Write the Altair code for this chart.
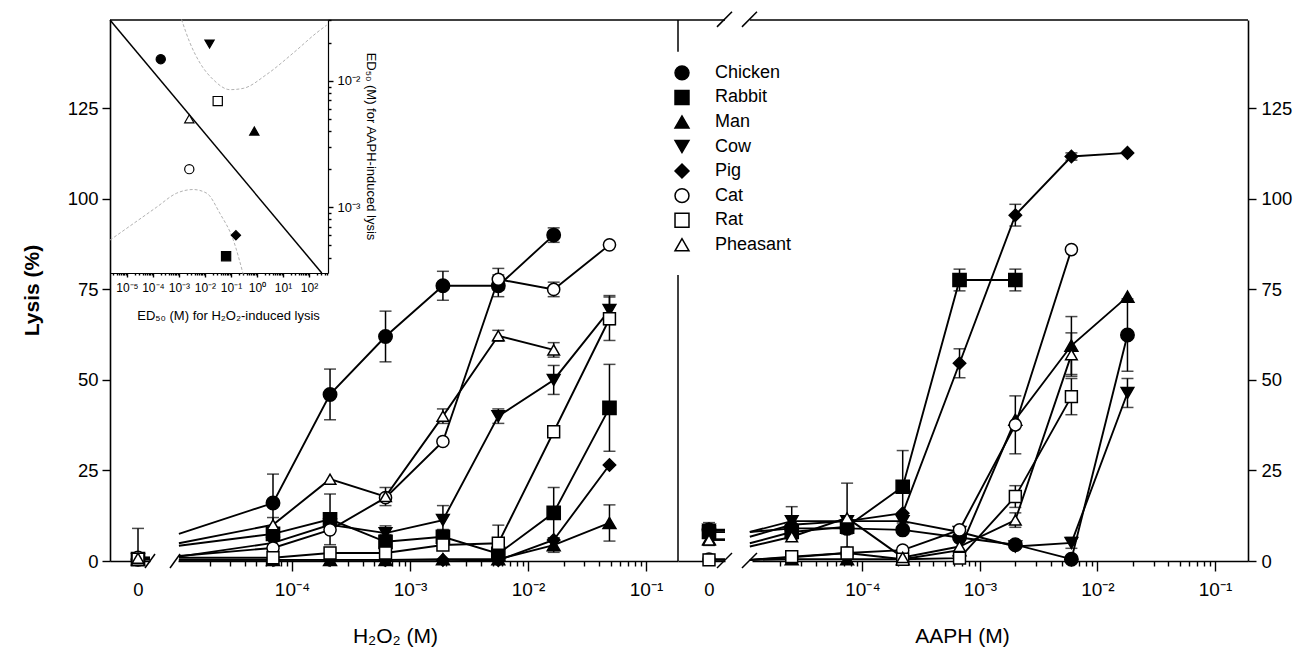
import altair as alt
import pandas as pd

FONT = "Liberation Sans"

# ---------------- data ----------------
SPECIES = ["Chicken", "Rabbit", "Man", "Cow", "Pig", "Cat", "Rat", "Pheasant"]
SHAPES = ["circle", "square", "triangle-up", "triangle-down", "diamond", "circle", "square", "triangle-up"]
FILLS = ["black", "black", "black", "black", "black", "white", "white", "white"]
SIZES = [180, 135, 170, 170, 205, 180, 135, 170]

H2O2_DOSE = [6.9e-5, 2.1e-4, 6.2e-4, 1.9e-3, 5.6e-3, 1.65e-2, 4.9e-2]
AAPH_DOSE = [2.5e-5, 7.4e-5, 2.2e-4, 6.7e-4, 2.0e-3, 6.0e-3, 1.8e-2]
STUB_DOSE = 1.1e-5

H2O2_LYSIS = {
    "Chicken": [16, 46, 62, 76, 76, 90, None],
    "Rabbit": [7.5, 11.5, 5.3, 6.7, 2, 13.3, 42.3],
    "Man": [0.3, 0.3, 0.3, 0.5, 0.5, 4.4, 10.5],
    "Cow": [5, 10, 7.7, 11.3, 40, 50, 69.3],
    "Pig": [0.3, 0.3, 0.3, 0.3, 0.2, 5.8, 26.5],
    "Cat": [3.6, 8.6, 17.5, 33, 77.8, 75, 87.3],
    "Rat": [0.9, 2.2, 2.2, 4.4, 4.9, 35.7, 66.9],
    "Pheasant": [10, 22.6, 17.8, 40, 62.2, 58.3, None],
}
H2O2_ERR = {
    "Chicken": [8, 7, 7, 4, 3, 2, None],
    "Rabbit": [1.5, 7, 2, 2, 0, 7, 12],
    "Man": [0, 0, 0, 0, 0, 2, 5],
    "Cow": [0, 0, 2, 4, 2, 4, 4],
    "Pig": [0, 0, 0, 0, 0, 0, 0],
    "Cat": [0, 0, 0, 0, 3, 2, 0],
    "Rat": [0, 0, 0, 0, 5, 0, 6],
    "Pheasant": [2, 0, 2.5, 2, 1.5, 2, None],
}
H2O2_CONTROL = {"Chicken": 0.5, "Rabbit": 0.5, "Man": 0.5, "Cow": 0.5, "Pig": 0.5,
                "Cat": 1.0, "Rat": 0.5, "Pheasant": 0.8}
H2O2_CONTROL_ERR = {"Chicken": 0, "Rabbit": 0, "Man": 0, "Cow": 0, "Pig": 0,
                    "Cat": 8, "Rat": 0, "Pheasant": 0}
H2O2_STUB = {"Chicken": 7.5, "Rabbit": 4.2, "Man": 0.3, "Cow": 1.2, "Pig": 0.3,
             "Cat": 1.4, "Rat": 0.9, "Pheasant": 4.9}

AAPH_LYSIS = {
    "Chicken": [9, 9, 8.6, 6.5, 4.5, 0.5, 62.4],
    "Rabbit": [8, 9.5, 20.5, 77.6, 77.6, None, None],
    "Man": [0.5, 0.5, 0.5, 3, 39, 59.5, 73],
    "Cow": [11, 11, 11, 8, 4, 5, 46.4],
    "Pig": [10, 11, 13.2, 54.6, 95.5, 111.7, 112.7],
    "Cat": [1, 2.2, 3, 8.6, 37.6, 86, None],
    "Rat": [1.2, 2.2, 0.5, 0.8, 17.8, 45.4, None],
    "Pheasant": [6.7, 11.9, 1, 4, 11.3, 57, None],
}
AAPH_ERR = {
    "Chicken": [0, 0, 0, 0, 0, 0, 10],
    "Rabbit": [2, 2, 10, 3, 3, None, None],
    "Man": [0, 0, 0, 0, 0, 8, 0],
    "Cow": [4, 0, 0, 0, 0, 1.5, 4],
    "Pig": [0, 0, 0, 4, 3, 1, 0],
    "Cat": [0, 0, 0, 0, 8, 0, None],
    "Rat": [0, 0, 0, 0, 3, 5, None],
    "Pheasant": [0, 9.6, 0, 0, 2, 6, None],
}
AAPH_CONTROL = {"Chicken": 8.6, "Rabbit": 8.0, "Man": 6.0, "Cow": 8.6, "Pig": 8.6,
                "Cat": 0.5, "Rat": 0.3, "Pheasant": 5.8}
AAPH_CONTROL_ERR = {"Chicken": 2, "Rabbit": 0, "Man": 0, "Cow": 0, "Pig": 0,
                    "Cat": 0, "Rat": 1.5, "Pheasant": 1.5}
AAPH_STUB = {"Chicken": 8.0, "Rabbit": 4.9, "Man": 0.3, "Cow": 8.0, "Pig": 6.7,
             "Cat": 0.3, "Rat": 0.3, "Pheasant": 4.0}

# inset: ED50 values (M)
INSET_H2O2_ED50 = [2.0e-4, 6.5e-2, 0.79, 1.5e-2, 0.155, 2.5e-3, 3.1e-2, 2.5e-3]
INSET_AAPH_ED50 = [1.48e-2, 4.1e-4, 4.0e-3, 1.95e-2, 6.0e-4, 2.0e-3, 6.9e-3, 5.0e-3]
INSET_FIT_X = [2.24e-6, 309.0]
INSET_FIT_Y = [3.02e-2, 3.02e-4]
UPPER_BAND_X = [1.26e-3, 2.63e-3, 6.46e-3, 2.09e-2, 9.12e-2, 0.295, 2.34, 25.1, 200, 479]
UPPER_BAND_Y = [3.05e-2, 2.0e-2, 1.38e-2, 1.02e-2, 8.5e-3, 8.7e-3, 1.12e-2, 1.66e-2, 2.4e-2, 2.75e-2]
LOWER_BAND_X = [2.24e-6, 1.74e-5, 1.38e-4, 8.1e-4, 3.55e-3, 1.17e-2, 3.8e-2, 0.123, 0.295]
LOWER_BAND_Y = [5.5e-4, 7.4e-4, 1.0e-3, 1.29e-3, 1.38e-3, 1.29e-3, 8.9e-4, 5.5e-4, 2.95e-4]

# ---------------- layout ----------------
W, H = 1138, 541
Y_MAX = 149.4
BLACK = "black"
LW = 1.9


def sup(n):
    table = str.maketrans("-0123456789", "⁻⁰¹²³⁴⁵⁶⁷⁸⁹")
    return "10" + str(n).translate(table)


def label_expr(decades):
    expr = "''"
    for k in decades:
        v = 10.0 ** k
        expr = f"(datum.value > {v*0.999:.6g} && datum.value < {v*1.001:.6g}) ? '{sup(k)}' : " + expr
    return expr


def log_ticks(lo, hi):
    vals = []
    for k in range(-7, 4):
        for m in range(1, 10):
            v = m * 10.0 ** k
            if lo <= v <= hi:
                vals.append(v)
    return vals


MAJOR = "abs(log(datum.value)/LN10 - round(log(datum.value)/LN10)) < 0.01"


def cond_tick(major, minor):
    return {"condition": {"test": MAJOR, "value": major}, "value": minor}


shape_enc = alt.Shape("species:N", scale=alt.Scale(domain=SPECIES, range=SHAPES), legend=None)
fill_enc = alt.Fill("species:N", scale=alt.Scale(domain=SPECIES, range=FILLS), legend=None)
size_enc = alt.Size("species:N", scale=alt.Scale(domain=SPECIES, range=SIZES), legend=None)

# scales
y_sc = alt.Scale(domain=[0, Y_MAX], nice=False, zero=False)
lz_sc = alt.Scale(domain=[-28, 12], range=[0, 40], nice=False, zero=False)
ll_sc = alt.Scale(type="log", domain=[1.081e-5, 0.1866], range=[68, 568], nice=False)
rz_sc = alt.Scale(domain=[-31, 16], range=[568, 615], nice=False, zero=False)
rl_sc = alt.Scale(type="log", domain=[1.148e-5, 0.191], range=[642, 1138], nice=False)
ix_sc = alt.Scale(type="log", domain=[2.24e-6, 537], range=[0, 218], nice=False)
iy_sc = alt.Scale(type="log", domain=[3.02e-4, 3.02e-2], range=[253, 0], nice=False)

Y_VALUES = [0, 25, 50, 75, 100, 125]
y_left_axis = alt.Axis(orient="left", values=Y_VALUES, tickSize=8, labelPadding=4, labelFontSize=18.5,
                       title="Lysis (%)", titleFontSize=21, titleFontWeight="bold", titleAngle=270,
                       titleX=-78, titleY=270, titleAlign="center", titleBaseline="middle")
y_right_axis = alt.Axis(orient="right", values=Y_VALUES, tickSize=8, labelPadding=5, labelFontSize=18.5,
                        title=None)

zero_axis = alt.Axis(orient="bottom", values=[0], labelExpr="'0'", tickSize=10, tickOpacity=0,
                     labelPadding=9, labelFontSize=18.5, title=None, labelFlush=False)
ll_axis = alt.Axis(orient="bottom", values=log_ticks(1.081e-5, 0.1866), labelExpr=label_expr([-4, -3, -2, -1]),
                   tickSize=cond_tick(10, 5), labelPadding=9, labelFontSize=19, labelOverlap=False,
                   labelFlush=False, title="H₂O₂ (M)", titleFontSize=21, titleFontWeight="normal",
                   titleX=285, titleY=81, titleAlign="center", titleBaseline="alphabetic")
rl_axis = alt.Axis(orient="bottom", values=log_ticks(1.148e-5, 0.191), labelExpr=label_expr([-4, -3, -2, -1]),
                   tickSize=cond_tick(10, 5), labelPadding=9, labelFontSize=19, labelOverlap=False,
                   labelFlush=False, title="AAPH (M)", titleFontSize=21, titleFontWeight="normal",
                   titleX=852, titleY=81, titleAlign="center", titleBaseline="alphabetic")
ix_axis = alt.Axis(orient="bottom", offset=-288, values=log_ticks(2.24e-6, 537),
                   labelExpr=label_expr(range(-5, 3)), tickSize=cond_tick(4, 2), labelPadding=5,
                   labelFontSize=12, labelOverlap=False, labelFlush=False,
                   title="ED₅₀ (M) for H₂O₂-induced lysis", titleFontSize=13, titleFontWeight="normal",
                   titleX=118, titleY=42, titleAlign="center", titleBaseline="middle", domainWidth=1.2)
iy_axis = alt.Axis(orient="right", offset=-920, values=log_ticks(3.02e-4, 3.02e-2),
                   labelExpr=label_expr([-3, -2]), tickSize=cond_tick(5, 3), labelPadding=4,
                   labelFontSize=13, labelOverlap=False, labelFlush=False,
                   title="ED₅₀ (M) for AAPH-induced lysis", titleFontSize=13, titleFontWeight="normal",
                   titleAngle=90, titleX=42, titleY=126, titleAlign="center", titleBaseline="middle",
                   domainWidth=1.2)


def series_frames(doses, lysis, errs, stub):
    pts, lines = [], []
    for sp in SPECIES:
        lines.append(dict(species=sp, dose=STUB_DOSE, lysis=stub[sp]))
        for d, v, e in zip(doses, lysis[sp], errs[sp]):
            if v is None:
                continue
            e = e or 0
            pts.append(dict(species=sp, dose=d, lysis=v, err=e, lo=max(v - e, 0), hi=v + e))
            lines.append(dict(species=sp, dose=d, lysis=v))
    return pd.DataFrame(pts), pd.DataFrame(lines)


def control_frames(ctrl, cerr, stub_end):
    pts, lines = [], []
    for sp in SPECIES:
        v, e = ctrl[sp], cerr[sp]
        pts.append(dict(species=sp, dose=0, lysis=v, err=e, lo=max(v - e, 0), hi=v + e))
        lines.append(dict(species=sp, dose=0, lysis=v))
        lines.append(dict(species=sp, dose=stub_end, lysis=v))
    return pd.DataFrame(pts), pd.DataFrame(lines)


def data_layers(pts, lines, xsc, xax, yax):
    X = lambda f: alt.X(f"{f}:Q", scale=xsc, axis=xax)
    Y = lambda f: alt.Y(f"{f}:Q", scale=y_sc, axis=yax)
    line = alt.Chart(lines).mark_line(color=BLACK, strokeWidth=LW).encode(
        x=X("dose"), y=Y("lysis"), detail="species:N")
    errs = pts[pts["err"] > 0]
    low_errs = errs[errs["lo"] > 0]
    bar = alt.Chart(errs).mark_rule(color=BLACK, strokeWidth=1.5).encode(
        x=X("dose"), y=Y("lo"), y2="hi")
    cap_lo = alt.Chart(low_errs).mark_tick(orient="horizontal", size=12, thickness=1.5, color=BLACK).encode(
        x=X("dose"), y=Y("lo"))
    cap_hi = alt.Chart(errs).mark_tick(orient="horizontal", size=12, thickness=1.5, color=BLACK).encode(
        x=X("dose"), y=Y("hi"))
    pts_layer = alt.Chart(pts).mark_point(filled=True, opacity=1, stroke=BLACK, strokeWidth=1.5).encode(
        x=X("dose"), y=Y("lysis"), shape=shape_enc, fill=fill_enc, size=size_enc)
    return [line, bar, cap_lo, cap_hi, pts_layer]


def deco_rules(df, xsc, xax, yax):
    return alt.Chart(df).mark_rule(color=BLACK, strokeWidth=1.5).encode(
        x=alt.X("x:Q", scale=xsc, axis=xax), x2="x2",
        y=alt.Y("y:Q", scale=y_sc, axis=yax), y2="y2")


# ---------- left (H2O2) ----------
lp, ll = series_frames(H2O2_DOSE, H2O2_LYSIS, H2O2_ERR, H2O2_STUB)
lcp, lcl = control_frames(H2O2_CONTROL, H2O2_CONTROL_ERR, 12)

left_zero_deco = pd.DataFrame([
    dict(x=7, x2=17, y=-1.93, y2=1.93),            # axis break slash
    dict(x=-28, x2=587, y=Y_MAX, y2=Y_MAX),       # top frame (left part)
])
left_log_deco = pd.DataFrame([dict(x=9.25e-6, x2=1.125e-5, y=-1.93, y2=1.93)])

left_zero = alt.layer(*data_layers(lcp, lcl, lz_sc, zero_axis, None),
                      deco_rules(left_zero_deco, lz_sc, zero_axis, None))
left_log = alt.layer(*data_layers(lp, ll, ll_sc, ll_axis, y_left_axis),
                     deco_rules(left_log_deco, ll_sc, ll_axis, y_left_axis))

# ---------- right (AAPH) ----------
rp, rl = series_frames(AAPH_DOSE, AAPH_LYSIS, AAPH_ERR, AAPH_STUB)
rcp, rcl = control_frames(AAPH_CONTROL, AAPH_CONTROL_ERR, 16)

right_zero_deco = pd.DataFrame([
    dict(x=8, x2=23, y=-1.93, y2=2.21),            # bottom break slash
    dict(x=8, x2=23, y=147.5, y2=151.7),           # top break slash
    dict(x=-31, x2=-31, y=0, y2=79),               # divider (lower part)
    dict(x=-31, x2=-31, y=140.6, y2=Y_MAX),        # divider (upper part)
])
right_log_deco = pd.DataFrame([
    dict(x=9.43e-6, x2=1.265e-5, y=-1.93, y2=2.21),
    dict(x=9.43e-6, x2=1.265e-5, y=147.5, y2=151.7),
    dict(x=1.10e-5, x2=0.191, y=Y_MAX, y2=Y_MAX),  # top frame (right part)
])

legend_df = pd.DataFrame({
    "species": SPECIES,
    "mx": [-27] * len(SPECIES),
    "tx": [6] * len(SPECIES),
    "ly": [134.8 - 6.78 * i for i in range(len(SPECIES))],
})
legend_pts = alt.Chart(legend_df).mark_point(filled=True, opacity=1, stroke=BLACK, strokeWidth=1.5,
                                             size=195).encode(
    x=alt.X("mx:Q", scale=rz_sc, axis=zero_axis), y=alt.Y("ly:Q", scale=y_sc, axis=None),
    shape=shape_enc, fill=fill_enc)
legend_txt = alt.Chart(legend_df).mark_text(align="left", baseline="middle", font=FONT, fontSize=18,
                                            color=BLACK).encode(
    x=alt.X("tx:Q", scale=rz_sc, axis=zero_axis), y=alt.Y("ly:Q", scale=y_sc, axis=None),
    text="species:N")

right_zero = alt.layer(*data_layers(rcp, rcl, rz_sc, zero_axis, None),
                       deco_rules(right_zero_deco, rz_sc, zero_axis, None),
                       legend_pts, legend_txt)
right_log = alt.layer(*data_layers(rp, rl, rl_sc, rl_axis, y_right_axis),
                      deco_rules(right_log_deco, rl_sc, rl_axis, y_right_axis))

# ---------- inset ----------
inset_pts = pd.DataFrame({"species": SPECIES, "h2o2": INSET_H2O2_ED50, "aaph": INSET_AAPH_ED50})
fit_df = pd.DataFrame({"x": [INSET_FIT_X[0]], "x2": [INSET_FIT_X[1]],
                       "y": [INSET_FIT_Y[0]], "y2": [INSET_FIT_Y[1]]})
band_df = pd.concat([
    pd.DataFrame({"band": "upper", "x": UPPER_BAND_X, "y": UPPER_BAND_Y}),
    pd.DataFrame({"band": "lower", "x": LOWER_BAND_X, "y": LOWER_BAND_Y}),
])
IX = lambda f: alt.X(f"{f}:Q", scale=ix_sc, axis=ix_axis)
IY = lambda f: alt.Y(f"{f}:Q", scale=iy_sc, axis=iy_axis)
inset = alt.layer(
    alt.Chart(band_df).mark_line(color="#a8a8a8", strokeWidth=0.9, strokeDash=[3, 2],
                                 interpolate="monotone").encode(x=IX("x"), y=IY("y"), detail="band:N"),
    alt.Chart(fit_df).mark_rule(color=BLACK, strokeWidth=1.5).encode(x=IX("x"), x2="x2", y=IY("y"), y2="y2"),
    alt.Chart(inset_pts).mark_point(filled=True, opacity=1, stroke=BLACK, strokeWidth=1.2, size=85).encode(
        x=IX("h2o2"), y=IY("aaph"), shape=shape_enc, fill=fill_enc),
)

chart = alt.layer(left_zero, left_log, right_zero, right_log, inset).resolve_scale(
    x="independent", y="independent"
).properties(
    width=W, height=H,
    autosize=alt.AutoSizeParams(type="none"),
    padding={"left": 110, "top": 20, "right": 54, "bottom": 93},
    background="white",
).configure_view(stroke=None).configure_axis(
    grid=False, domainColor=BLACK, domainWidth=1.6, tickColor=BLACK, tickWidth=1.4,
    labelColor=BLACK, titleColor=BLACK, labelFont=FONT, titleFont=FONT,
)

chart.save("out.html", embed_options={"renderer": "svg", "actions": False})
